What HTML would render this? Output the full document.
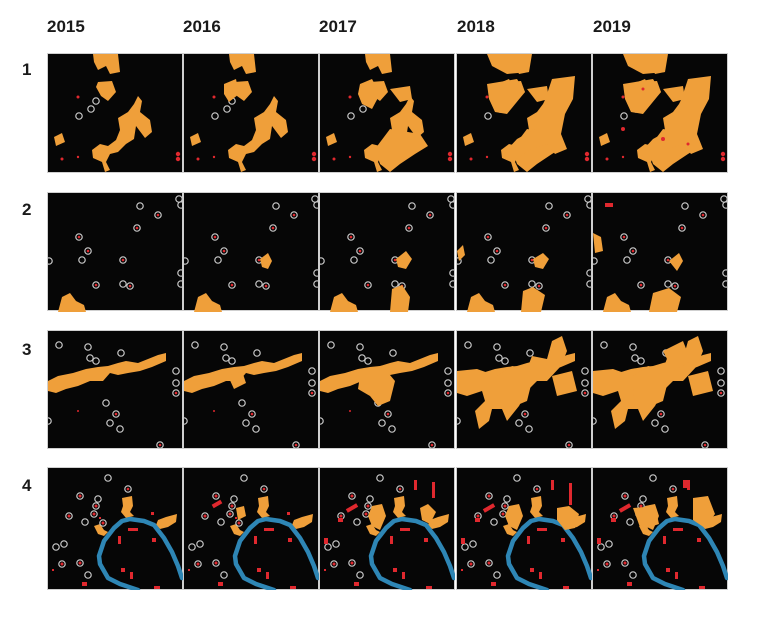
<!DOCTYPE html>
<html><head><meta charset="utf-8"><style>
html,body{margin:0;padding:0;background:#fff;}
svg{display:block}
text{font-family:"Liberation Sans",sans-serif;font-weight:bold;fill:#1a1a1a}
</style></head><body>
<svg width="768" height="627" viewBox="0 0 768 627" xmlns="http://www.w3.org/2000/svg">
<defs>
<clipPath id="c"><rect x="0" y="0" width="135" height="119"/></clipPath>
<clipPath id="c4"><rect x="0" y="0" width="135" height="122"/></clipPath>
<!-- Row1 -->
<g id="r1base">
<path d="M45 0 L70 0 L72 18 L62 20 L58 12 L50 16 L46 8Z" fill="#ef9f3a"/>
<path d="M50 28 L64 27 L68 38 L60 47 L53 42 L48 33Z" fill="#ef9f3a"/>
<path d="M90 42 L94 47 L92 58 L102 66 L104 78 L97 84 L88 72 L86 85 L78 90 L70 98 L62 100 L58 108 L62 116 L57 118 L54 108 L45 104 L44 96 L52 90 L60 92 L68 86 L72 76 L70 64 L80 58 L86 50Z" fill="#ef9f3a"/>
<path d="M6 83 L14 79 L17 88 L8 92Z" fill="#ef9f3a"/>
<circle cx="48" cy="47" r="3.2" fill="none" stroke="#c8c8c8" stroke-width="1.2"/>
<circle cx="43" cy="55" r="3.2" fill="none" stroke="#c8c8c8" stroke-width="1.2"/>
<circle cx="31" cy="62" r="3.2" fill="none" stroke="#c8c8c8" stroke-width="1.2"/>
<circle cx="30" cy="43" r="1.5" fill="#e0282e"/><circle cx="14" cy="105" r="1.5" fill="#e0282e"/><circle cx="30" cy="103" r="1.2" fill="#e0282e"/>
<circle cx="130" cy="100" r="2.2" fill="#e0282e"/><circle cx="130" cy="105" r="2.2" fill="#e0282e"/>
</g>
<g id="r1grow">
<path d="M40 30 L52 25 L60 40 L52 55 L42 50 L38 40Z" fill="#ef9f3a"/>
<path d="M70 35 L90 32 L92 45 L80 48Z" fill="#ef9f3a"/>
<path d="M70 75 L100 80 L108 92 L95 100 L80 110 L70 118 L60 110 L55 95Z" fill="#ef9f3a"/>
</g>
<g id="r1big">
<path d="M95 25 L118 22 L116 45 L108 60 L104 80 L110 95 L98 100 L90 90 L72 96 L60 105 L48 98 L60 85 L78 75 L85 55 L90 40Z" fill="#ef9f3a"/>
<path d="M30 30 L60 25 L68 38 L50 60 L38 58 L32 45Z" fill="#ef9f3a"/>
<path d="M30 0 L75 0 L72 18 L50 20 L35 12Z" fill="#ef9f3a"/>
</g>
<!-- Row2 -->
<g id="r2base">
<path d="M10 119 L14 104 L22 100 L28 108 L36 112 L38 119Z" fill="#ef9f3a"/>
<g fill="none" stroke="#c8c8c8" stroke-width="1.2">
<circle cx="92" cy="13" r="3.2"/><circle cx="110" cy="22" r="3.2"/><circle cx="89" cy="35" r="3.2"/>
<circle cx="31" cy="44" r="3.2"/><circle cx="40" cy="58" r="3.2"/><circle cx="34" cy="67" r="3.2"/>
<circle cx="75" cy="67" r="3.2"/><circle cx="48" cy="92" r="3.2"/><circle cx="75" cy="91" r="3.2"/><circle cx="82" cy="93" r="3.2"/>
<circle cx="131" cy="6" r="3.2"/><circle cx="133" cy="12" r="3.2"/><circle cx="133" cy="80" r="3.2"/><circle cx="133" cy="91" r="3.2"/><circle cx="1" cy="68" r="3.2"/>
</g>
<g fill="#e0282e"><circle cx="31" cy="44" r="1.3"/><circle cx="40" cy="58" r="1.3"/><circle cx="110" cy="22" r="1.3"/><circle cx="89" cy="35" r="1.3"/><circle cx="75" cy="67" r="1.3"/><circle cx="48" cy="92" r="1.3"/><circle cx="82" cy="93" r="1.3"/></g>
</g>
<!-- Row3 -->
<g id="r3base">
<path d="M0 50 L10 45 L25 42 L38 38 L50 36 L60 35 L70 32 L78 30 L90 32 L100 28 L110 24 L118 22 L118 30 L104 36 L92 40 L80 42 L70 44 L62 42 L55 50 L42 50 L30 55 L18 58 L8 62 L0 60Z" fill="#ef9f3a"/>
<g fill="none" stroke="#c8c8c8" stroke-width="1.2">
<circle cx="11" cy="14" r="3.2"/><circle cx="40" cy="16" r="3.2"/><circle cx="42" cy="27" r="3.2"/><circle cx="48" cy="30" r="3.2"/><circle cx="73" cy="22" r="3.2"/>
<circle cx="58" cy="72" r="3.2"/><circle cx="68" cy="83" r="3.2"/><circle cx="62" cy="92" r="3.2"/><circle cx="72" cy="98" r="3.2"/><circle cx="128" cy="40" r="3.2"/><circle cx="128" cy="52" r="3.2"/><circle cx="128" cy="62" r="3.2"/><circle cx="112" cy="114" r="3.2"/><circle cx="0" cy="90" r="3.2"/>
</g>
<g fill="#e0282e"><circle cx="68" cy="83" r="1.3"/><circle cx="128" cy="62" r="1.3"/><circle cx="112" cy="114" r="1.3"/><circle cx="30" cy="80" r="1"/></g>
</g>
<g id="r3grow">
<path d="M40 45 L65 38 L75 50 L70 70 L58 75 L50 65 L38 58Z" fill="#ef9f3a"/>
</g>
<g id="r3big">
<path d="M0 40 L20 38 L40 45 L55 35 L70 38 L75 25 L90 28 L95 10 L105 5 L110 20 L104 35 L90 50 L80 50 L70 60 L62 75 L50 90 L45 78 L35 78 L32 90 L22 98 L18 80 L28 70 L25 60 L10 65 L0 62Z" fill="#ef9f3a"/>
<path d="M95 45 L115 40 L120 60 L100 65Z" fill="#ef9f3a"/>
</g>
<!-- Row4 -->
<g id="r4base">
<path d="M74 30 L84 28 L85 38 L82 44 L86 48 L78 50 L73 44 L75 38Z" fill="#ef9f3a"/>
<path d="M110 52 L118 49 L129 46 L128 54 L120 59 L112 61 L108 57Z" fill="#ef9f3a"/>
<path d="M46 58 L52 56 L56 62 L60 64 L56 68 L50 66Z" fill="#ef9f3a"/>
<path d="M90 122 L72 116 L60 110 L52 96 L51 88 L56 73 L66 60 L74 53 L82 51 L96 53 L106 57 L116 70 L124 84 L130 98 L134 110" fill="none" stroke="#2e86b5" stroke-width="4.5" stroke-linejoin="round" stroke-linecap="round"/>
<g fill="#e0282e">
<rect x="80" y="60" width="10" height="3"/><rect x="70" y="68" width="3" height="8"/><rect x="104" y="70" width="4" height="4"/><rect x="73" y="100" width="4" height="4"/><rect x="82" y="104" width="3" height="7"/><rect x="34" y="114" width="5" height="4"/><rect x="106" y="118" width="6" height="3"/><rect x="4" y="101" width="2" height="2"/><rect x="103" y="44" width="3" height="3"/><rect x="51" y="49" width="2" height="2"/>
</g>
<g fill="none" stroke="#c8c8c8" stroke-width="1.2">
<circle cx="60" cy="10" r="3.2"/><circle cx="80" cy="21" r="3.2"/><circle cx="32" cy="28" r="3.2"/><circle cx="50" cy="31" r="3.2"/><circle cx="48" cy="38" r="3.2"/><circle cx="21" cy="48" r="3.2"/><circle cx="46" cy="46" r="3.2"/><circle cx="55" cy="55" r="3.2"/><circle cx="37" cy="54" r="3.2"/><circle cx="8" cy="79" r="3.2"/><circle cx="16" cy="76" r="3.2"/><circle cx="14" cy="96" r="3.2"/><circle cx="32" cy="95" r="3.2"/><circle cx="40" cy="107" r="3.2"/>
</g>
<g fill="#e0282e"><circle cx="80" cy="21" r="1.3"/><circle cx="32" cy="28" r="1.5"/><circle cx="48" cy="38" r="1.5"/><circle cx="21" cy="48" r="1.5"/><circle cx="46" cy="46" r="1.5"/><circle cx="55" cy="55" r="1.5"/><circle cx="14" cy="96" r="1.5"/><circle cx="32" cy="95" r="1.5"/></g>
</g>
<g id="r4grow">
<path d="M52 38 L62 36 L66 48 L60 62 L52 58 L48 48Z" fill="#ef9f3a"/>
<g fill="#e0282e"><rect x="26" y="38" width="12" height="4" transform="rotate(-30 32 40)"/><rect x="94" y="12" width="3" height="10"/><rect x="18" y="50" width="5" height="4"/><rect x="4" y="70" width="4" height="6"/></g>
</g>
</defs>

<g font-size="17">
<text x="47" y="32">2015</text><text x="183" y="32">2016</text><text x="319" y="32">2017</text><text x="457" y="32">2018</text><text x="593" y="32">2019</text>
<text x="22" y="75">1</text><text x="22" y="215">2</text><text x="22" y="355">3</text><text x="22" y="491">4</text>
</g>

<g fill="#060606" stroke="#cfcfcf" stroke-width="1">
<rect x="47.5" y="53.5" width="135" height="119"/><rect x="183.5" y="53.5" width="135" height="119"/><rect x="319.5" y="53.5" width="135" height="119"/><rect x="456.5" y="53.5" width="135" height="119"/><rect x="592.5" y="53.5" width="135" height="119"/>
<rect x="47.5" y="192.5" width="135" height="118"/><rect x="183.5" y="192.5" width="135" height="118"/><rect x="319.5" y="192.5" width="135" height="118"/><rect x="456.5" y="192.5" width="135" height="118"/><rect x="592.5" y="192.5" width="135" height="118"/>
<rect x="47.5" y="330.5" width="135" height="118"/><rect x="183.5" y="330.5" width="135" height="118"/><rect x="319.5" y="330.5" width="135" height="118"/><rect x="456.5" y="330.5" width="135" height="118"/><rect x="592.5" y="330.5" width="135" height="118"/>
<rect x="47.5" y="467.5" width="135" height="122"/><rect x="183.5" y="467.5" width="135" height="122"/><rect x="319.5" y="467.5" width="135" height="122"/><rect x="456.5" y="467.5" width="135" height="122"/><rect x="592.5" y="467.5" width="135" height="122"/>
</g>

<!-- Row 1 -->
<g transform="translate(48,54)" clip-path="url(#c)"><use href="#r1base"/></g>
<g transform="translate(184,54)" clip-path="url(#c)"><use href="#r1base"/><path d="M40 30 L52 25 L55 40 L45 48 L40 40Z" fill="#ef9f3a"/></g>
<g transform="translate(320,54)" clip-path="url(#c)"><use href="#r1base"/><use href="#r1grow"/></g>
<g transform="translate(457,54)" clip-path="url(#c)"><use href="#r1base"/><use href="#r1grow"/><use href="#r1big"/></g>
<g transform="translate(593,54)" clip-path="url(#c)"><use href="#r1base"/><use href="#r1grow"/><use href="#r1big"/><g fill="#e0282e"><circle cx="70" cy="85" r="2"/><circle cx="30" cy="75" r="2"/><circle cx="95" cy="90" r="1.5"/><circle cx="50" cy="35" r="1.5"/></g></g>

<!-- Row 2 -->
<g transform="translate(48,193)" clip-path="url(#c)"><use href="#r2base"/></g>
<g transform="translate(184,193)" clip-path="url(#c)"><use href="#r2base"/><path d="M76 66 L84 60 L88 68 L84 76 L78 74Z" fill="#ef9f3a"/></g>
<g transform="translate(320,193)" clip-path="url(#c)"><use href="#r2base"/><path d="M76 66 L86 58 L92 66 L86 76 L78 74Z" fill="#ef9f3a"/><path d="M70 119 L72 96 L82 92 L90 104 L88 119Z" fill="#ef9f3a"/></g>
<g transform="translate(457,193)" clip-path="url(#c)"><use href="#r2base"/><path d="M76 66 L86 60 L92 66 L86 76 L78 74Z" fill="#ef9f3a"/><path d="M64 119 L66 98 L76 94 L88 102 L84 119Z" fill="#ef9f3a"/><path d="M0 58 L6 52 L8 62 L2 68Z" fill="#ef9f3a"/></g>
<g transform="translate(593,193)" clip-path="url(#c)"><use href="#r2base"/><path d="M76 68 L86 60 L90 68 L84 78Z" fill="#ef9f3a"/><path d="M56 119 L60 100 L76 95 L88 104 L84 119Z" fill="#ef9f3a"/><path d="M0 40 L8 44 L10 58 L2 60Z" fill="#ef9f3a"/><rect x="12" y="10" width="8" height="4" fill="#e0282e"/></g>

<!-- Row 3 -->
<g transform="translate(48,331)" clip-path="url(#c)"><use href="#r3base"/></g>
<g transform="translate(184,331)" clip-path="url(#c)"><use href="#r3base"/><path d="M44 45 L58 40 L62 52 L50 58Z" fill="#ef9f3a"/></g>
<g transform="translate(320,331)" clip-path="url(#c)"><use href="#r3base"/><use href="#r3grow"/></g>
<g transform="translate(457,331)" clip-path="url(#c)"><use href="#r3base"/><use href="#r3grow"/><use href="#r3big"/></g>
<g transform="translate(593,331)" clip-path="url(#c)"><use href="#r3base"/><use href="#r3grow"/><use href="#r3big"/><path d="M70 20 L90 10 L98 30 L80 40Z" fill="#ef9f3a"/><path d="M30 60 L40 55 L42 75 L30 80Z" fill="#ef9f3a"/></g>

<!-- Row 4 -->
<g transform="translate(48,468)" clip-path="url(#c4)"><use href="#r4base"/></g>
<g transform="translate(184,468)" clip-path="url(#c4)"><use href="#r4base"/><path d="M52 40 L60 38 L62 48 L54 52Z" fill="#ef9f3a"/><rect x="28" y="34" width="10" height="4" fill="#e0282e" transform="rotate(-30 33 36)"/></g>
<g transform="translate(320,468)" clip-path="url(#c4)"><use href="#r4base"/><use href="#r4grow"/><path d="M100 40 L108 36 L116 44 L110 56 L102 52Z" fill="#ef9f3a"/><rect x="112" y="14" width="3" height="16" fill="#e0282e"/></g>
<g transform="translate(457,468)" clip-path="url(#c4)"><use href="#r4base"/><use href="#r4grow"/><path d="M100 40 L112 38 L122 46 L118 60 L108 62 L100 52Z" fill="#ef9f3a"/><rect x="112" y="15" width="3" height="22" fill="#e0282e"/></g>
<g transform="translate(593,468)" clip-path="url(#c4)"><use href="#r4base"/><use href="#r4grow"/><path d="M40 40 L62 38 L66 56 L48 62Z" fill="#ef9f3a"/><path d="M100 30 L115 28 L122 46 L112 60 L100 52Z" fill="#ef9f3a"/><rect x="90" y="12" width="6" height="8" fill="#e0282e"/></g>
</svg>
</body></html>
